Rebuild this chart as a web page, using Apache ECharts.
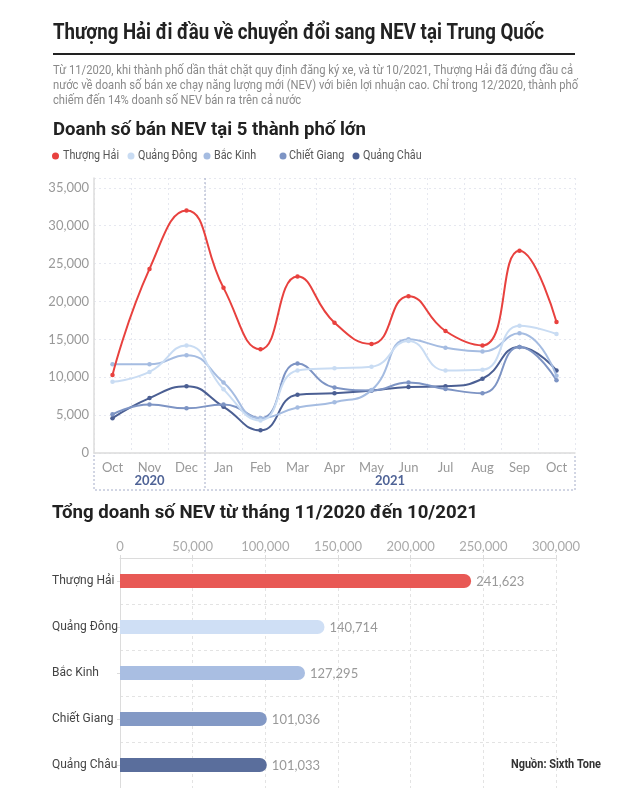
<!DOCTYPE html>
<html><head><meta charset="utf-8">
<script src="https://cdn.jsdelivr.net/npm/echarts@6/dist/echarts.min.js"></script>
<style>html,body{margin:0;padding:0;background:#fff}#c{width:630px;height:788px}</style>
</head><body><div id="c"></div>
<script>
// ---- data ----
const categories = ['Oct 2020','Nov 2020','Dec 2020','Jan 2021','Feb 2021','Mar 2021','Apr 2021','May 2021','Jun 2021','Jul 2021','Aug 2021','Sep 2021','Oct 2021'];
const monthLabels = ['Oct','Nov','Dec','Jan','Feb','Mar','Apr','May','Jun','Jul','Aug','Sep','Oct'];
const yearLabels = ['2020','2021'];
const cities = ['Thượng Hải','Quảng Đông','Bắc Kinh','Chiết Giang','Quảng Châu'];
const shanghai  = [10300, 24300, 32000, 21800, 13700, 23300, 17200, 14400, 20700, 16100, 14200, 26700, 17300];
const guangdong = [9400, 10700, 14200, 8400, 4300, 10900, 11200, 11400, 14800, 10900, 11000, 16800, 15700];
const beijing   = [11700, 11700, 12900, 9300, 4600, 6000, 6700, 8300, 15000, 13900, 13400, 15800, 10200];
const zhejiang  = [5100, 6400, 5900, 6400, 4600, 11800, 8650, 8250, 9300, 8450, 7900, 14000, 9600];
const guangzhou = [4600, 7250, 8800, 6100, 3000, 7700, 7900, 8250, 8700, 8800, 9800, 14000, 10900];
const totals = [241623, 140714, 127295, 101036, 101033];

// ---- styles ----
const lineColors = ['#e8413e','#c9dcf3','#a5bce1','#7d94c4','#4b5f93'];
const barColors  = ['#e85955','#cfdff5','#a9bee2','#8399c5','#5a6e9c'];
const fmt = v => String(Math.round(v)).replace(/\B(?=(\d{3})+(?!\d))/g, ',');

const texts = {
  title: 'Thượng Hải đi đầu về chuyển đổi sang NEV tại Trung Quốc',
  sub1: 'Từ 11/2020, khi thành phố dần thắt chặt quy định đăng ký xe, và từ 10/2021, Thượng Hải đã đứng đầu cả',
  sub2: 'nước về doanh số bán xe chạy năng lượng mới (NEV) với biên lợi nhuận cao. Chỉ trong 12/2020, thành phố',
  sub3: 'chiếm đến 14% doanh số NEV bán ra trên cả nước',
  h1: 'Doanh số bán NEV tại 5 thành phố lớn',
  h2: 'Tổng doanh số NEV từ tháng 11/2020 đến 10/2021',
  src: 'Nguồn: Sixth Tone'
};

const mctx = document.createElement('canvas').getContext('2d');
function fit(text, font, target){ mctx.font = font; return target / mctx.measureText(text).width; }

const F_TITLE = 'bold 22px Roboto';
const F_SUB = '13px Roboto';
const F_H = 'bold 19px Roboto';
const F_SRC = 'bold 12.5px Roboto';
const F_LEG = '12.5px Roboto';
const sTitle = fit(texts.title, F_TITLE, 491);
const sSub = fit(texts.sub1, F_SUB, 520);
const sH1 = fit(texts.h1, F_H, 313);
const sH2 = fit(texts.h2, F_H, 426);
const sSrc = fit(texts.src, F_SRC, 90);
const sLeg = fit(cities[0], F_LEG, 56);

function txt(text, x, y, font, fill, sx){
  return {type:'text', x:x, y:y, scaleX:sx, silent:true,
    style:{text:text, font:font, fill:fill, verticalAlign:'middle', align:'left'}};
}

const GL = 94, GR = 575, GT = 178, GB = 453, BOXB = 490;
const chart = echarts.init(document.getElementById('c'), null, {renderer:'canvas'});

const lineSeries = [shanghai, guangdong, beijing, zhejiang, guangzhou].map((d, i) => ({
  name: cities[i], type:'line', xAxisIndex:0, yAxisIndex:0, data:d,
  smooth:0.5, symbol:'circle', symbolSize:4.5, showSymbol:true,
  lineStyle:{width:2, color:lineColors[i]}, itemStyle:{color:lineColors[i]},
  emphasis:{disabled:true}, z: 10 - i
}));

// legend: icon via ECharts legend (text hidden), labels drawn condensed
const legendLefts = [52, 127.5, 203.5, 279.5, 352.5];
const legends = cities.map((c, i) => ({
  data:[c], left:legendLefts[i], top:152.5, padding:0, icon:'circle', itemWidth:7, itemHeight:7,
  itemGap:0, selectedMode:false, formatter:() => '',
  textStyle:{fontSize:1, padding:0}
}));

chart.setOption({
  animation:false,
  backgroundColor:'#fff',
  legend: legends,
  grid:[
    {left:GL, right:630-GR, top:GT, bottom:788-GB},
    {left:120, right:630-556, top:558, bottom:0}
  ],
  xAxis:[
    {type:'category', gridIndex:0, data:categories, boundaryGap:true,
     axisLine:{lineStyle:{color:'#dcdcdc', width:1.5}},
     axisTick:{show:false},
     axisLabel:{interval:0, color:'#999', fontFamily:'Lato', fontSize:13, margin:8,
       formatter:(v, i) => monthLabels[i]},
     splitLine:{show:true, interval:0, lineStyle:{color:'#e6e8f0', type:[2,3], width:1}}},
    {type:'value', gridIndex:1, position:'top', min:0, max:300000, interval:50000,
     axisLine:{show:true, lineStyle:{color:'#dcdcdc'}},
     axisTick:{show:true, length:3, lineStyle:{color:'#dcdcdc'}},
     axisLabel:{color:'#aaa', fontFamily:'Lato', fontSize:13, margin:5, formatter:fmt},
     splitLine:{show:true, lineStyle:{color:'#e3e3e3', type:[3,3]}}}
  ],
  yAxis:[
    {type:'value', gridIndex:0, min:0, max:36300, interval:5000,
     axisLine:{show:true, lineStyle:{color:'#dcdcdc', width:1.5}},
     axisTick:{show:false},
     axisLabel:{color:'#999', fontFamily:'Lato', fontSize:13, margin:5, showMaxLabel:false,
       formatter:v => (v % 5000 === 0 ? fmt(v) : '')},
     splitLine:{show:true, lineStyle:{color:'#e6e8f0', type:[2,3]}}},
    {type:'category', gridIndex:1, data:cities, inverse:true,
     axisLine:{show:true, lineStyle:{color:'#dcdcdc'}},
     axisTick:{show:true, length:3, alignWithLabel:true, lineStyle:{color:'#dcdcdc'}},
     axisLabel:{align:'left', margin:68, color:'#444', fontFamily:'Roboto', fontSize:12},
     splitLine:{show:true, lineStyle:{color:'#e3e3e3', type:[3,3]}}}
  ],
  series: lineSeries.concat([{
    type:'bar', xAxisIndex:1, yAxisIndex:1, barWidth:14,
    data: totals.map((v, i) => ({value:v, itemStyle:{color:barColors[i], borderRadius:[0,7,7,0]}})),
    label:{show:true, position:'right', distance:5, color:'#999', fontFamily:'Lato', fontSize:13,
      offset:[0,1], formatter:p => fmt(p.value)},
    emphasis:{disabled:true}
  }])
});

// decorations positioned from the axis scale
const xPos = i => chart.convertToPixel({xAxisIndex:0}, i);
const divX = (xPos(2) + xPos(3)) / 2;
const boxStroke = '#a4acc8';
const legendTextX = [63, 138, 214, 289, 363];
const graphics = [
  txt(texts.title, 53, 33, F_TITLE, '#222', sTitle),
  {type:'rect', shape:{x:53, y:53, width:522, height:2}, style:{fill:'#222'}, silent:true},
  txt(texts.sub1, 53, 71, F_SUB, '#8a8a8a', sSub),
  txt(texts.sub2, 53, 86, F_SUB, '#8a8a8a', sSub),
  txt(texts.sub3, 53, 101, F_SUB, '#8a8a8a', sSub),
  txt(texts.h1, 53, 130, F_H, '#222', sH1),
  txt(texts.h2, 52, 513, F_H, '#222', sH2),
  txt(texts.src, 511, 765, F_SRC, '#333', sSrc),
  {type:'line', shape:{x1:divX, y1:GT, x2:divX, y2:BOXB}, silent:true,
   style:{stroke:boxStroke, lineWidth:1, lineDash:[2,2]}},
  {type:'polyline', shape:{points:[[GL, GB+2],[GL, BOXB],[GR, BOXB],[GR, GB+2]]}, silent:true,
   style:{stroke:boxStroke, fill:null, lineWidth:1, lineDash:[2,2]}},
  {type:'text', x:(GL+divX)/2, y:481, silent:true,
   style:{text:yearLabels[0], font:'bold 13px Lato', fill:'#4f6396', align:'center', verticalAlign:'middle'}},
  {type:'text', x:(divX+GR)/2, y:481, silent:true,
   style:{text:yearLabels[1], font:'bold 13px Lato', fill:'#4f6396', align:'center', verticalAlign:'middle'}}
].concat(cities.map((c, i) => txt(c, legendTextX[i], 156, F_LEG, '#555', sLeg)));
chart.setOption({graphic: graphics});
</script></body></html>
